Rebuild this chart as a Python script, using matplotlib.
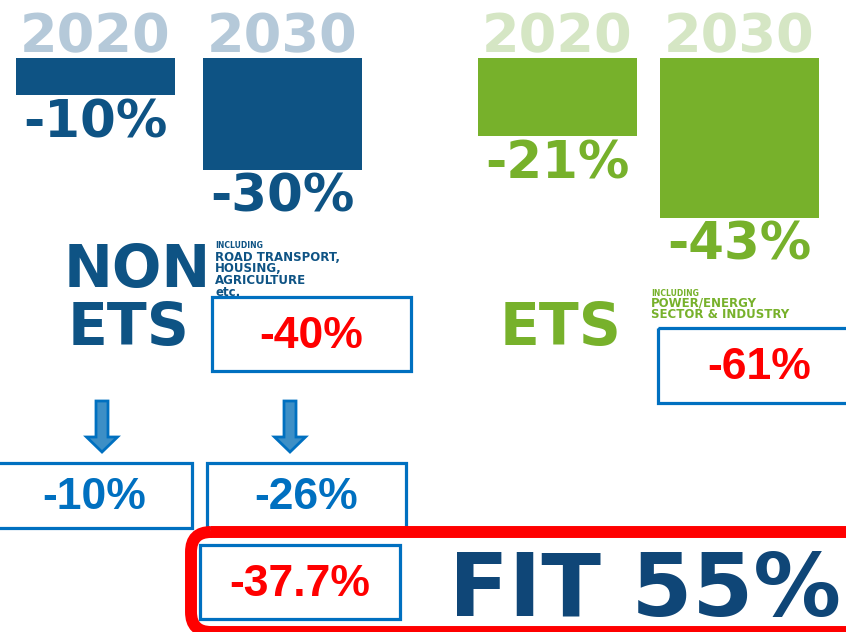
import matplotlib
matplotlib.use('Agg')
import matplotlib.pyplot as plt
from matplotlib.patches import Rectangle, FancyBboxPatch, FancyArrow

# data
years = ['2020', '2030']
non_ets_cut = [10, 30]
ets_cut = [21, 43]
non_ets_split = [10, 26]
non_ets_total = 40
ets_total = 61
non_ets_fit = 37.7
fit_target = 55
non_ets_sectors = ['ROAD TRANSPORT,', 'HOUSING,', 'AGRICULTURE', 'etc.']
ets_sectors = ['POWER/ENERGY', 'SECTOR & INDUSTRY']

# colours
DARK_BLUE = '#0e5384'
LIGHT_BLUE = '#b5c9d9'
GREEN = '#77b12b'
LIGHT_GREEN = '#d5e6c4'
BOX_BLUE = '#0070c0'
RED = '#ff0000'
NAVY = '#0f4677'

PX_PER_PCT = 3.72
BAR_TOP = 58
BAR_W = 159

fig = plt.figure(figsize=(8.46, 6.32), dpi=100)
ax = fig.add_axes([0, 0, 1, 1])
ax.set_xlim(0, 846)
ax.set_ylim(632, 0)
ax.axis('off')


def bar_group(lefts, values, col, light):
    heights = [v * PX_PER_PCT for v in values]
    ax.bar(lefts, heights, width=BAR_W, bottom=BAR_TOP, align='edge', color=col)
    for x, yr, v, h in zip(lefts, years, values, heights):
        ax.text(x + BAR_W / 2, 52, yr, color=light, fontsize=39,
                fontweight='bold', ha='center', va='baseline')
        ax.text(x + BAR_W / 2, BAR_TOP + h + 3, '-{:d}%'.format(v), color=col,
                fontsize=37, fontweight='bold', ha='center', va='top')


bar_group([16, 203], non_ets_cut, DARK_BLUE, LIGHT_BLUE)
bar_group([478, 660], ets_cut, GREEN, LIGHT_GREEN)

# NON ETS label
ax.text(64, 287, 'NON', color=DARK_BLUE, fontsize=42, fontweight='bold',
        ha='left', va='baseline')
ax.text(68, 345, 'ETS', color=DARK_BLUE, fontsize=42, fontweight='bold',
        ha='left', va='baseline')
ax.text(215, 248, 'INCLUDING', color=DARK_BLUE, fontsize=5.5, fontweight='bold',
        va='baseline')
ax.text(215, 251, '\n'.join(non_ets_sectors), color=DARK_BLUE, fontsize=8.5,
        fontweight='bold', va='top', linespacing=0.85)

# ETS label
ax.text(500, 345, 'ETS', color=GREEN, fontsize=42, fontweight='bold',
        ha='left', va='baseline')
ax.text(651, 296, 'INCLUDING', color=GREEN, fontsize=5.5, fontweight='bold',
        va='baseline')
ax.text(651, 297, '\n'.join(ets_sectors), color=GREEN, fontsize=8.5,
        fontweight='bold', va='top', linespacing=0.85)


def box(x0, y0, x1, y1, txt, col):
    ax.add_patch(Rectangle((x0, y0), x1 - x0, y1 - y0, fill=False,
                           ec=BOX_BLUE, lw=2.3))
    ax.text((x0 + x1) / 2, (y0 + y1) / 2 + 2, txt, color=col, fontsize=32,
            fontweight='bold', family='Liberation Sans', ha='center',
            va='center')


box(212, 297, 411, 371, '-{:d}%'.format(non_ets_total), RED)
box(658, 328, 860, 403, '-{:d}%'.format(ets_total), RED)

# arrows
for xc in [102, 290]:
    ax.add_patch(FancyArrow(xc, 401, 0, 51, width=12, head_width=31,
                            head_length=15, length_includes_head=True,
                            fc='#3d8fc6', ec=BOX_BLUE, lw=2))

box(-3, 463, 192, 528, '-{:d}%'.format(non_ets_split[0]), BOX_BLUE)
box(207, 463, 406, 528, '-{:d}%'.format(non_ets_split[1]), BOX_BLUE)

# fit for 55 frame
ax.add_patch(FancyBboxPatch((191, 532), 720, 100,
                            boxstyle='round,pad=0,rounding_size=20',
                            fill=False, ec=RED, lw=8.6))
box(200, 545, 400, 619, '-{}%'.format(non_ets_fit), RED)
ax.text(449, 616, 'FIT {:d}%'.format(fit_target), color=NAVY, fontsize=63,
        fontweight='bold', ha='left', va='baseline')

plt.savefig('out.png', dpi=100)
